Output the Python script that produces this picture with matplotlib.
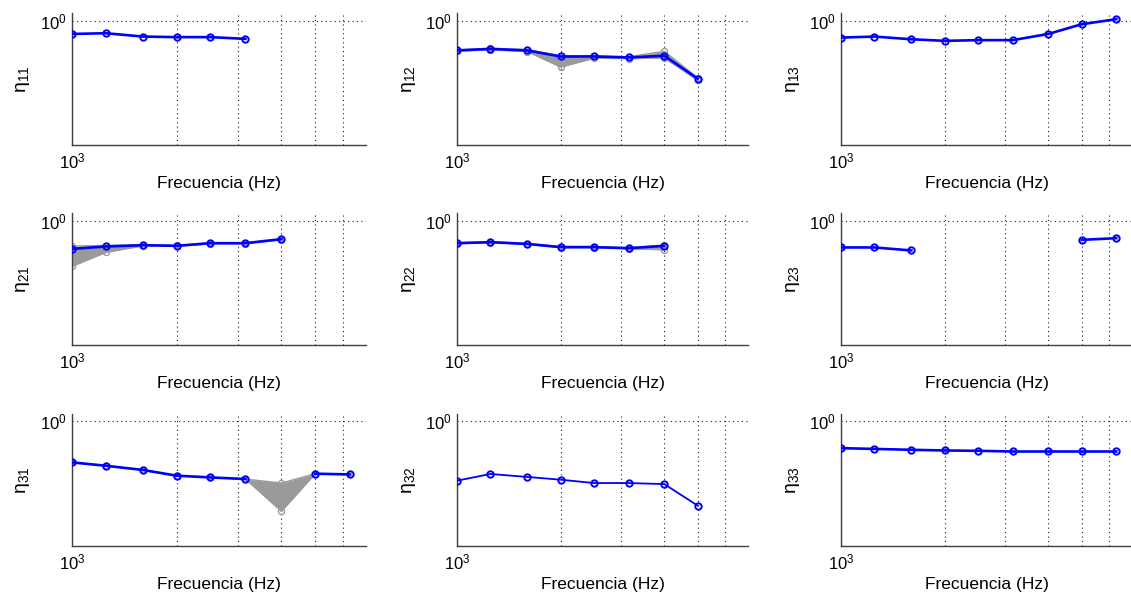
import numpy as np
import matplotlib
matplotlib.use("Agg")
import matplotlib.pyplot as plt
from matplotlib.ticker import NullLocator, FixedLocator

plt.rcParams['font.family'] = ['Liberation Sans', 'DejaVu Sans']
plt.rcParams['mathtext.fontset'] = 'custom'
plt.rcParams['mathtext.rm'] = 'Liberation Sans'
plt.rcParams['mathtext.it'] = 'Liberation Sans:italic'
plt.rcParams['mathtext.bf'] = 'Liberation Sans:bold'

nan = np.nan
freqs = [1000, 1250, 1600, 2000, 2500, 3150, 4000, 5000, 6300]

eta11 = [0.842, 0.850, 0.814, 0.808, 0.808, 0.790, nan, nan, nan]
eta12 = [0.680, 0.694, 0.680, 0.629, 0.629, 0.621, 0.635, 0.472, nan]
eta13 = [0.803, 0.814, 0.786, 0.770, 0.777, 0.777, 0.842, 0.955, 1.019]
eta21 = [0.694, 0.716, 0.728, 0.722, 0.747, 0.747, 0.787, nan, nan]
eta22 = [0.747, 0.757, 0.740, 0.710, 0.710, 0.700, 0.722, nan, nan]
eta23 = [0.707, 0.707, 0.680, nan, nan, nan, nan, 0.780, 0.797]
eta31 = [0.588, 0.563, 0.533, 0.495, 0.484, 0.474, nan, 0.508, 0.503]
eta32 = [0.464, 0.506, 0.487, 0.470, 0.450, 0.450, 0.444, 0.336, nan]
eta33 = [0.707, 0.700, 0.692, 0.686, 0.683, 0.677, 0.677, 0.677, 0.677]

# envelopes of the grey (simulated) curves
gray12_lo = [0.675, 0.685, 0.670, 0.548, 0.615, 0.612, 0.616, 0.462, nan]
gray12_hi = [0.685, 0.700, 0.688, 0.635, 0.635, 0.627, 0.672, 0.478, nan]
gray21_lo = [0.553, 0.663, 0.722, 0.718, 0.742, 0.742, 0.782, nan, nan]
gray21_hi = [0.720, 0.725, 0.732, 0.726, 0.750, 0.750, 0.790, nan, nan]
gray22_lo = [0.742, 0.752, 0.736, 0.705, 0.705, 0.695, 0.686, nan, nan]
gray22_hi = [0.752, 0.762, 0.744, 0.715, 0.715, 0.705, 0.728, nan, nan]
gray31_lo = [0.588, 0.563, 0.533, 0.495, 0.484, 0.474, 0.312, 0.508, 0.503]
gray31_hi = [0.588, 0.563, 0.533, 0.495, 0.484, 0.474, 0.450, 0.508, 0.503]

labels = [['11', '12', '13'], ['21', '22', '23'], ['31', '32', '33']]
series = [[eta11, eta12, eta13], [eta21, eta22, eta23], [eta31, eta32, eta33]]
grays = {(0, 1): (gray12_lo, gray12_hi), (1, 0): (gray21_lo, gray21_hi),
         (1, 1): (gray22_lo, gray22_hi), (2, 0): (gray31_lo, gray31_hi)}

grid_x = [2000, 3000, 4000, 5000, 6000, 7000]

W, H = 1131, 594
fig = plt.figure(figsize=(W / 100, H / 100), dpi=100)
lefts = [72, 457, 841]
widths = [294, 291, 291]
tops = [13.3, 213.3, 414]
hgt = 131.7

blue = '#0000ff'
grey = '#9a9a9a'

for r in range(3):
    for c in range(3):
        ax = fig.add_axes([lefts[c] / W, 1 - (tops[r] + hgt) / H, widths[c] / W, hgt / H])
        ax.set_xscale('log')
        ax.set_yscale('log')
        x = np.array(freqs, dtype=float)
        if (r, c) in grays:
            lo, hi = grays[(r, c)]
            lo = np.array(lo); hi = np.array(hi)
            ax.fill_between(x, lo, hi, color=grey, lw=0, zorder=2)
            ax.plot(x, lo, '-o', color=grey, lw=1.0, ms=4.3, mfc='none', mew=1.0, zorder=2)
            ax.plot(x, hi, '-o', color=grey, lw=1.0, ms=4.3, mfc='none', mew=1.0, zorder=2)
        y = np.array(series[r][c], dtype=float)
        lw = 1.3 if (r, c) == (2, 1) else 1.9
        ax.plot(x, y, '-o', color=blue, lw=lw, ms=4.6, mfc='none', mew=1.4, zorder=3)

        ax.set_xlim(1000, 7000)
        ax.set_ylim(0.2, 1.1)
        ax.xaxis.set_major_locator(FixedLocator([1000]))
        ax.xaxis.set_minor_locator(FixedLocator(grid_x))
        ax.yaxis.set_major_locator(FixedLocator([1.0]))
        ax.yaxis.set_minor_locator(NullLocator())
        ax.set_xticklabels([r'$10^{3}$'])
        ax.set_yticklabels([r'$10^{0}$'])
        ax.xaxis.set_minor_formatter(plt.NullFormatter())
        ax.tick_params(which='both', length=0, labelsize=12, pad=5, colors='#000000')
        ax.tick_params(axis='y', pad=4)
        ax.grid(True, which='both', axis='x', linestyle=(0, (1, 3)), color='#202020', lw=0.8)
        ax.grid(True, which='major', axis='y', linestyle=(0, (1, 3)), color='#202020', lw=0.8)
        for s in ['top', 'right']:
            ax.spines[s].set_visible(False)
        for s in ['left', 'bottom']:
            ax.spines[s].set_color('#404040')
            ax.spines[s].set_linewidth(1.0)
        ax.set_xlabel('Frecuencia (Hz)', fontsize=12.5)
        ax.xaxis.set_label_coords(0.5, -0.235)
        ax.xaxis.label.set_va('top')
        ax.set_ylabel('η$_{' + labels[r][c] + '}$', fontsize=14)
        ax.yaxis.set_label_coords(-0.135, 0.5)

fig.savefig('out.png', dpi=100)
